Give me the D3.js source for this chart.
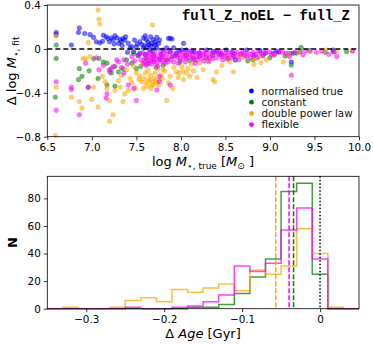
<!DOCTYPE html>
<html>
<head>
<meta charset="utf-8">
<script src="https://cdn.jsdelivr.net/npm/d3@7"></script>
<style>
  body { margin: 0; background: #fff; }
  svg { font-family: "DejaVu Sans", sans-serif; }
</style>
</head>
<body>
<svg id="chart" width="373" height="344"></svg>
<script>
// ---- data: top panel, [log M true, delta log M fit] ----
var blueTrue = [[6.60,0.15],[6.60,0.13],[6.86,0.19],[6.85,0.15],[6.77,0.035],[6.92,0.14],[6.98,0.13],[7.02,0.105],
  [7.05,0.065],[7.09,0.055],[7.13,0.125],[7.16,0.11],[7.18,0.095],[7.20,0.065],[7.24,0.085],[7.26,0.12],[7.30,0.05],
  [7.32,0.085],[7.33,0.065],[7.35,0.095],[7.37,0.08],[7.25,0.045],[7.41,0.05],[7.60,0.12],[7.61,0.085],[7.63,0.065],
  [7.67,0.05],[7.69,0.085],[7.71,0.065],[7.73,0.105],[7.75,0.05],[7.86,0.095],[7.90,0.09],[8.03,0.05],[7.54,0.065],
  [7.50,0.02],[7.58,0.005],[7.45,0.02],[7.47,-0.025],[7.54,-0.04],[7.65,-0.01],[7.73,0.005],[7.80,-0.01],[7.88,-0.025],
  [7.95,-0.04],[8.01,-0.01],[8.06,-0.01],[8.21,-0.04],[8.36,-0.025],[8.51,-0.01],[8.74,-0.01],[8.89,-0.016],[9.07,-0.025],
  [9.24,-0.12],[9.26,-0.04],[9.34,-0.025],[9.45,-0.016],[9.71,-0.01],[8.61,-0.10],[8.29,-0.01],[7.88,0.097],[7.66,0.03],
  [7.56,0.04],[7.62,0.02],[7.70,0.03],[7.52,-0.06],[7.60,-0.05],[7.68,-0.02],[7.78,-0.05],[7.92,0.01],[8.12,-0.02],
  [8.45,-0.05],[8.82,-0.06],[9.10,-0.03],[7.43,0.01],[7.40,-0.03],[7.48,0.08],[7.22,0.10],[7.12,0.07],
  [7.28,0.10],[7.34,0.03],[7.38,0.11],[7.58,0.10],[7.64,0.04],[7.66,0.11],[7.72,0.04],[7.76,0.08],[7.59,0.03],
  [7.51,0.045],[7.84,0.01],[7.98,-0.02],[8.15,-0.03],[8.40,-0.02],[8.58,-0.03],[8.95,-0.04]];

var greenConst = [[6.60,0.035],[6.60,-0.087],[6.59,-0.44],[6.86,-0.18],[6.85,-0.28],[6.89,-0.25],[6.96,-0.35],[7.07,-0.27],
  [7.08,-0.087],[7.17,-0.13],[7.20,-0.19],[7.26,-0.16],[7.17,-0.33],[7.26,-0.34],[7.30,-0.21],[7.35,-0.18],[7.39,-0.10],
  [7.45,-0.13],[7.50,-0.18],[7.61,-0.09],[7.69,-0.055],[7.76,-0.09],[7.84,-0.10],[7.91,-0.07],[7.99,-0.12],[8.06,-0.055],
  [8.21,-0.07],[8.36,-0.055],[8.59,-0.065],[8.81,-0.10],[9.04,-0.04],[9.17,-0.065],[9.24,-0.147],[9.35,0.014],[9.22,-0.04],
  [9.71,-0.025],[9.86,-0.025],[7.47,-0.04],[8.14,-0.087],[7.13,-0.12],[7.22,-0.22],[7.55,-0.16],[7.64,-0.13],[7.72,-0.17],
  [7.80,-0.15],[7.95,-0.06],[8.10,-0.11],[8.28,-0.08],[8.44,-0.04],[8.52,-0.09],[8.68,-0.05],[8.75,-0.11],[8.92,-0.06],
  [9.00,-0.08],[9.30,-0.04],[9.62,-0.03],[6.97,-0.20],[7.02,-0.09]];

var orangeDpl = [[7.07,0.354],[7.08,0.27],[7.09,0.227],[7.68,0.218],[6.60,0.117],[6.96,0.057],[6.60,-0.35],[6.59,-0.79],
  [6.77,-0.44],[6.86,-0.48],[6.89,-0.54],[7.00,-0.46],[7.07,-0.53],[7.15,-0.30],[7.17,-0.36],[7.20,-0.47],[7.20,-0.66],
  [7.24,-0.60],[7.26,-0.38],[7.30,-0.29],[7.32,-0.35],[7.35,-0.48],[7.37,-0.41],[7.41,-0.38],[7.45,-0.31],[7.49,-0.36],
  [7.53,-0.28],[7.56,-0.30],[7.58,-0.36],[7.61,-0.31],[7.65,-0.28],[7.67,-0.33],[7.70,-0.27],[7.73,-0.31],[7.76,-0.28],
  [7.84,-0.47],[7.88,-0.25],[7.95,-0.21],[8.03,-0.28],[8.06,-0.22],[8.18,-0.26],[8.36,-0.28],[8.40,-0.21],[8.59,-0.21],
  [8.81,-0.10],[8.96,-0.10],[9.15,-0.12],[6.98,-0.07],[6.90,-0.087],[7.47,-0.16],[7.39,-0.19],[8.21,-0.13],[8.29,-0.087],
  [8.51,-0.087],[8.66,-0.07],[9.45,-0.025],[9.63,-0.01],[9.75,-0.025],[9.92,-0.016],[8.01,-0.16],[7.80,-0.19],[7.54,-0.25],
  [7.60,-0.22],[8.82,-0.14],[8.90,-0.126],[7.91,-0.36],[7.86,-0.31],[8.38,-0.30],[7.63,-0.20],[7.66,-0.24],[7.71,-0.22],
  [7.74,-0.18],[7.78,-0.24],[7.82,-0.20],[7.92,-0.17],[7.98,-0.22],[8.08,-0.18],[8.12,-0.14],[8.25,-0.19],[8.32,-0.12],
  [8.46,-0.15],[8.55,-0.12],[8.70,-0.08],[8.88,-0.07],[9.05,-0.06],[9.20,-0.05],[9.33,-0.03],[7.57,-0.14],[7.68,-0.30],
  [7.62,-0.34],[7.50,-0.22],[7.43,-0.27],[7.33,-0.24],[7.12,-0.25],[7.02,-0.35],[6.93,-0.09],
  [7.64,-0.29],[7.69,-0.33],[7.72,-0.29],[7.75,-0.33],[7.66,-0.36],[7.59,-0.27],[7.79,-0.27],[7.97,-0.26],[8.10,-0.25],
  [8.14,-0.20],[8.02,-0.20]];

var pinkFlex = [[6.60,-0.30],[6.60,-0.56],[6.77,-0.35],[6.77,-0.37],[6.86,-0.60],[6.96,-0.35],[6.93,-0.13],[7.08,-0.19],
  [7.17,-0.41],[7.16,-0.45],[7.20,-0.21],[7.24,-0.16],[7.30,-0.12],[7.36,-0.22],[7.41,-0.33],[7.50,-0.47],[7.47,-0.36],
  [7.73,-0.375],[7.76,-0.25],[7.88,-0.33],[7.76,-0.30],[9.24,-0.24],[9.37,-0.055],
  [7.36,-0.10],[7.40,-0.14],[7.45,-0.07],[7.48,-0.11],[7.33,-0.17],[7.28,-0.10],[7.22,-0.18],[7.13,-0.15],[7.05,-0.08],
  [7.52,-0.06],[7.55,-0.10],[7.57,-0.04],[7.58,-0.13],[7.60,-0.08],[7.61,-0.15],[7.62,-0.05],[7.63,-0.11],[7.65,-0.03],
  [7.66,-0.09],[7.67,-0.14],[7.68,-0.06],[7.70,-0.12],[7.71,-0.04],[7.72,-0.09],[7.74,-0.16],[7.75,-0.07],[7.77,-0.03],
  [7.78,-0.11],[7.80,-0.06],[7.82,-0.13],[7.84,-0.05],[7.86,-0.09],[7.88,-0.03],[7.90,-0.07],[7.92,-0.12],[7.94,-0.04],
  [7.96,-0.08],[7.98,-0.05],[8.00,-0.10],[8.02,-0.03],[8.04,-0.07],[8.05,-0.12],[8.07,-0.04],[8.09,-0.08],[8.11,-0.02],
  [8.13,-0.06],[8.15,-0.10],[8.17,-0.04],[8.19,-0.07],[8.21,-0.03],[8.23,-0.09],[8.25,-0.05],[8.27,-0.02],[8.29,-0.07],
  [8.31,-0.11],[8.33,-0.04],[8.35,-0.06],[8.38,-0.03],[8.40,-0.08],[8.43,-0.05],[8.45,-0.02],[8.48,-0.06],[8.50,-0.04],
  [8.53,-0.09],[8.55,-0.03],[8.58,-0.05],[8.61,-0.07],[8.63,-0.03],[8.66,-0.05],[8.69,-0.02],[8.72,-0.06],[8.75,-0.04],
  [8.78,-0.08],[8.81,-0.03],[8.84,-0.05],[8.87,-0.02],[8.90,-0.04],[8.95,-0.02],[9.00,-0.03],[9.05,-0.05],[9.10,-0.02],
  [9.18,-0.04],[9.22,-0.07],[9.28,-0.03],[9.40,-0.02],[9.52,-0.03],[9.58,-0.02],[9.66,-0.05],[9.72,-0.03],[9.75,-0.07],
  [9.93,-0.02],[7.64,-0.07],[7.69,-0.10],[7.79,-0.08],[7.83,-0.02],[7.97,-0.13],[8.03,-0.06],[8.16,-0.13],[8.26,-0.11],
  [8.36,-0.09],[8.47,-0.10],[8.57,-0.08],[8.65,-0.10],[8.74,-0.07],[8.86,-0.08],
  [7.59,-0.11],[7.62,-0.14],[7.67,-0.11],[7.70,-0.07],[7.73,-0.13],[7.76,-0.10],[7.81,-0.10],[7.85,-0.12],[7.89,-0.10],
  [7.93,-0.06],[7.99,-0.08],[8.06,-0.09],[8.10,-0.05],[8.14,-0.08],[8.18,-0.10],[8.22,-0.06],[8.28,-0.04],[8.32,-0.08],
  [8.41,-0.04],[8.46,-0.07],[8.52,-0.06],[8.60,-0.04],[8.70,-0.04],[8.80,-0.05],[8.92,-0.06],[9.02,-0.05],[9.14,-0.03]];

var seriesNames = ["normalised true", "constant", "double power law", "flexible"];
var seriesColors = ["blue", "green", "orange", "magenta"];
var xTicksTop = [6.5, 7.0, 7.5, 8.0, 8.5, 9.0, 9.5, 10.0];
var yTicksTop = [0.4, 0, -0.4, -0.8];

// ---- data: bottom panel, histogram of delta age (bin edges -0.35 .. 0.05, width 0.02) ----
var binEdges = [-0.35,-0.33,-0.31,-0.29,-0.27,-0.25,-0.23,-0.21,-0.19,-0.17,-0.15,-0.13,-0.11,-0.09,-0.07,-0.05,-0.03,-0.01,0.01,0.03,0.05];
var countsConst = [0,0,0,0,0,0,0,0,0,1,1,3,11,23,36,85,91,25,0,0];
var countsDpl   = [0,1,0,0,1,6,8,5,14,12,15,18,13,28,25,31,58,40,1,0];
var countsFlex  = [0,0,0,0,0,1,0,0,1,2,5,10,31,27,33,57,73,36,0,0];
var medians = [-0.0568, -0.0397, -0.034];
var medianColors = ["orange", "magenta", "green"];
var xTicksBot = [-0.3, -0.2, -0.1, 0];
var yTicksBot = [0, 20, 40, 60, 80];

var svg = d3.select("#chart");

function styleAxis(g) {
  g.select(".domain").remove();
  g.selectAll(".tick line").attr("stroke", "black").attr("stroke-width", 0.8);
  g.selectAll(".tick text").attr("font-size", 10.4).attr("fill", "black")
    .attr("font-family", "'DejaVu Sans', sans-serif");
}

// ===== top panel =====
var L = 47.3, R = 359, T1 = 5, B1 = 136.7;
var x1 = d3.scaleLinear().domain([6.5, 10.0]).range([L, R]);
var y1 = d3.scaleLinear().domain([-0.8, 0.4]).range([B1, T1]);

var topG = svg.append("g");
var allSeries = [blueTrue, greenConst, orangeDpl, pinkFlex];
allSeries.forEach(function(s, i) {
  topG.append("g").selectAll("circle")
    .data(s).enter().append("circle")
    .attr("cx", function(d) { return x1(d[0]); })
    .attr("cy", function(d) { return y1(d[1]); })
    .attr("r", 2.3)
    .attr("fill", seriesColors[i])
    .attr("fill-opacity", 0.55)
    .attr("stroke", seriesColors[i])
    .attr("stroke-opacity", 0.6)
    .attr("stroke-width", 0.5);
});

topG.append("line")
  .attr("x1", L).attr("x2", R).attr("y1", y1(0)).attr("y2", y1(0))
  .attr("stroke", "black").attr("stroke-width", 1.5).attr("stroke-dasharray", "5,3");

topG.append("g").attr("transform", "translate(0," + B1 + ")")
  .call(d3.axisBottom(x1).tickValues(xTicksTop).tickFormat(d3.format(".1f")).tickSizeOuter(0).tickSize(3.5))
  .call(styleAxis);
topG.append("g").attr("transform", "translate(" + L + ",0)")
  .call(d3.axisLeft(y1).tickValues(yTicksTop).tickFormat(function(d) { return d === 0 ? "0" : d3.format(".1f")(d); }).tickSizeOuter(0).tickSize(3.5))
  .call(styleAxis);
topG.append("rect").attr("x", L).attr("y", T1).attr("width", R - L).attr("height", B1 - T1)
  .attr("fill", "none").attr("stroke", "black").attr("stroke-width", 0.8);

topG.append("text").attr("x", 350).attr("y", 20).attr("text-anchor", "end")
  .attr("font-family", "'Liberation Mono', 'DejaVu Sans Mono', monospace")
  .attr("font-weight", "bold").attr("font-size", 14)
  .text("full_Z_noEL \u2212 full_Z");

var leg = topG.append("g");
seriesNames.forEach(function(n, i) {
  var yy = 91 + i * 11.2;
  leg.append("circle").attr("cx", 251.5).attr("cy", yy).attr("r", 2.4).attr("fill", seriesColors[i]);
  leg.append("text").attr("x", 261.5).attr("y", yy + 3.6).attr("font-size", 10.3).attr("fill", "#111").text(n);
});

// y label
var yl = topG.append("text").attr("transform", "translate(16," + ((T1 + B1) / 2) + ") rotate(-90)")
  .attr("text-anchor", "middle").attr("font-size", 13);
yl.append("tspan").text("\u0394 log ");
yl.append("tspan").attr("font-style", "italic").text("M");
yl.append("tspan").attr("font-size", 9).attr("dy", 3).text("\u22c6, fit");

// x label
var xl = topG.append("text").attr("x", 203).attr("y", 166).attr("text-anchor", "middle").attr("font-size", 13);
xl.append("tspan").text("log ");
xl.append("tspan").attr("font-style", "italic").text("M");
xl.append("tspan").attr("font-size", 9).attr("dy", 3).text("\u22c6, true");
xl.append("tspan").attr("dy", -3).text(" [");
xl.append("tspan").attr("font-style", "italic").text("M");
xl.append("tspan").attr("font-size", 9).attr("dy", 3).text("\u2299");
xl.append("tspan").attr("dy", -3).text(" ]");

// ===== bottom panel =====
var T2 = 176.3, B2 = 308.7;
var x2 = d3.scaleLinear().domain([-0.35, 0.05]).range([L, R]);
var y2 = d3.scaleLinear().domain([0, 96]).range([B2, T2]);
var bot = svg.append("g");

function stepPath(counts) {
  var pts = [[binEdges[0], 0]];
  counts.forEach(function(c, i) {
    pts.push([binEdges[i], c]);
    pts.push([binEdges[i + 1], c]);
  });
  pts.push([binEdges[binEdges.length - 1], 0]);
  return d3.line().x(function(d) { return x2(d[0]); }).y(function(d) { return y2(d[1]); })(pts);
}
[[countsConst, "green"], [countsDpl, "orange"], [countsFlex, "magenta"]].forEach(function(h) {
  bot.append("path").attr("d", stepPath(h[0])).attr("fill", "none")
    .attr("stroke", h[1]).attr("stroke-opacity", 0.75).attr("stroke-width", 1.5);
});

medians.forEach(function(m, i) {
  bot.append("line").attr("x1", x2(m)).attr("x2", x2(m)).attr("y1", T2).attr("y2", B2)
    .attr("stroke", medianColors[i]).attr("stroke-width", 1.5).attr("stroke-dasharray", "5,2");
});
bot.append("line").attr("x1", x2(0)).attr("x2", x2(0)).attr("y1", T2).attr("y2", B2)
  .attr("stroke", "black").attr("stroke-width", 1.5).attr("stroke-dasharray", "1.5,2");

bot.append("g").attr("transform", "translate(0," + B2 + ")")
  .call(d3.axisBottom(x2).tickValues(xTicksBot).tickFormat(function(d) { return d === 0 ? "0" : d3.format(".1f")(d); }).tickSizeOuter(0).tickSize(3.5))
  .call(styleAxis);
bot.append("g").attr("transform", "translate(" + L + ",0)")
  .call(d3.axisLeft(y2).tickValues(yTicksBot).tickSizeOuter(0).tickSize(3.5))
  .call(styleAxis);
bot.append("rect").attr("x", L).attr("y", T2).attr("width", R - L).attr("height", B2 - T2)
  .attr("fill", "none").attr("stroke", "black").attr("stroke-width", 0.8);

bot.append("text").attr("transform", "translate(17," + ((T2 + B2) / 2) + ") rotate(-90)")
  .attr("text-anchor", "middle").attr("font-size", 13).attr("font-weight", "bold").text("N");

var xl2 = bot.append("text").attr("x", 203).attr("y", 338).attr("text-anchor", "middle").attr("font-size", 13);
xl2.append("tspan").text("\u0394 ");
xl2.append("tspan").attr("font-style", "italic").text("Age");
xl2.append("tspan").text(" [Gyr]");
</script>
</body>
</html>
